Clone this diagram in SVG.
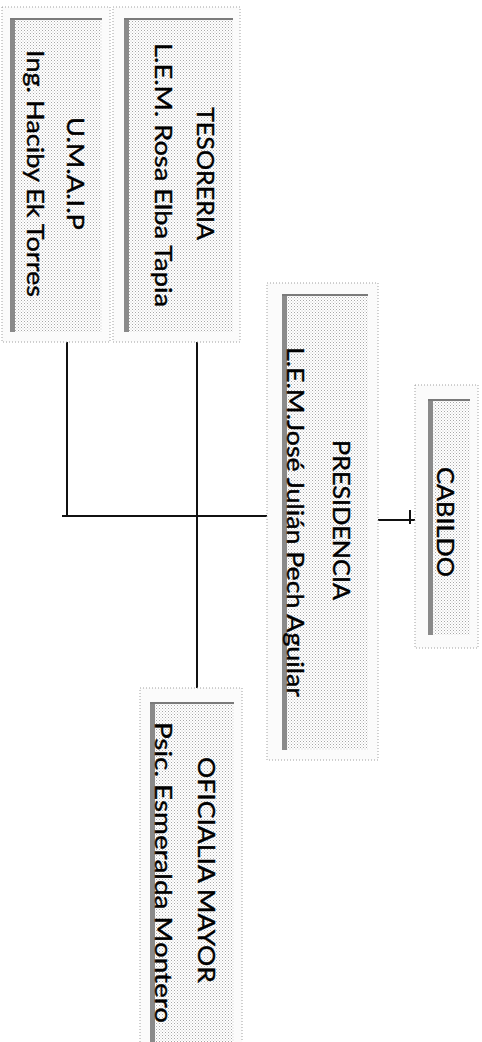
<svg xmlns="http://www.w3.org/2000/svg" width="482" height="1042" viewBox="0 0 482 1042">
<defs>
<pattern id="dots" width="3" height="3" patternUnits="userSpaceOnUse">
<rect width="3" height="3" fill="#ffffff"/>
<rect x="0" y="0" width="1" height="1" fill="#a8a8a8"/>
<rect x="1.5" y="1.5" width="1" height="1" fill="#c4c4c4"/>
</pattern>
<style>
.outer{fill:#fbfbfb;stroke:#a0a0a0;stroke-width:1;stroke-dasharray:1 2}
.inner{fill:url(#dots);stroke:none}
.edge{stroke:#8a8a8a;stroke-width:5;fill:none}
.top{stroke:#7a7a7a;stroke-width:2;fill:none}
.t{font-family:Lato,"Open Sans","Liberation Sans",sans-serif;font-size:24px;fill:#000;stroke:#000;stroke-width:0.4;text-anchor:middle}
.c{stroke:#111;stroke-width:2;fill:none}
</style>
</defs>
<rect width="482" height="1042" fill="#ffffff"/>
<g id="connectors">
<path class="c" d="M62 516 H280 M67 340 V516 M197 340 V695"/>
<path class="c" d="M376 520 H418 M410 510 V524"/>
</g>
<g id="umaip">
<rect class="outer" x="2" y="7" width="108" height="335"/>
<rect class="inner" x="10" y="18" width="92" height="314"/>
<path class="edge" d="M12.5 18 V332"/>
<path class="top" d="M10 19 H102"/>
<text class="t" transform="translate(67,173.5) rotate(90)" textLength="113" lengthAdjust="spacingAndGlyphs">U.M.A.I.P</text>
<text class="t" transform="translate(27,173.5) rotate(90)" textLength="247" lengthAdjust="spacingAndGlyphs">Ing. Haciby Ek Torres</text>
</g>
<g id="tesoreria">
<rect class="outer" x="113" y="7" width="127" height="335"/>
<rect class="inner" x="124" y="18" width="109" height="314"/>
<path class="edge" d="M126.5 18 V332"/>
<path class="top" d="M124 19 H233"/>
<text class="t" transform="translate(197,173.5) rotate(90)" textLength="133" lengthAdjust="spacingAndGlyphs">TESORERIA</text>
<text class="t" transform="translate(155,175) rotate(90)" textLength="264" lengthAdjust="spacingAndGlyphs">L.E.M. Rosa Elba Tapia</text>
</g>
<g id="presidencia">
<rect class="outer" x="267" y="283" width="111" height="477"/>
<rect class="inner" x="282" y="294" width="86" height="456"/>
<path class="edge" d="M284.5 294 V750"/>
<path class="top" d="M282 295 H368"/>
<text class="t" transform="translate(333,520) rotate(90)" textLength="160" lengthAdjust="spacingAndGlyphs">PRESIDENCIA</text>
<text class="t" transform="translate(287,522) rotate(90)" textLength="350" lengthAdjust="spacingAndGlyphs">L.E.M.José Julián Pech Aguilar</text>
</g>
<g id="cabildo">
<rect class="outer" x="415" y="385" width="63" height="263"/>
<rect class="inner" x="428" y="399" width="42" height="236"/>
<path class="edge" d="M430.5 399 V635"/>
<path class="top" d="M428 400 H470"/>
<text class="t" transform="translate(437,522) rotate(90)" textLength="110" lengthAdjust="spacingAndGlyphs">CABILDO</text>
</g>
<g id="oficialia">
<rect class="outer" x="140" y="688" width="102" height="360"/>
<rect class="inner" x="150" y="702" width="84" height="340"/>
<path class="edge" d="M152.5 702 V1042"/>
<path class="top" d="M150 703 H234"/>
<text class="t" transform="translate(198,870) rotate(90)" textLength="226" lengthAdjust="spacingAndGlyphs">OFICIALIA MAYOR</text>
<text class="t" transform="translate(155,872.5) rotate(90)" textLength="301" lengthAdjust="spacingAndGlyphs">Psic. Esmeralda Montero</text>
</g>
</svg>
